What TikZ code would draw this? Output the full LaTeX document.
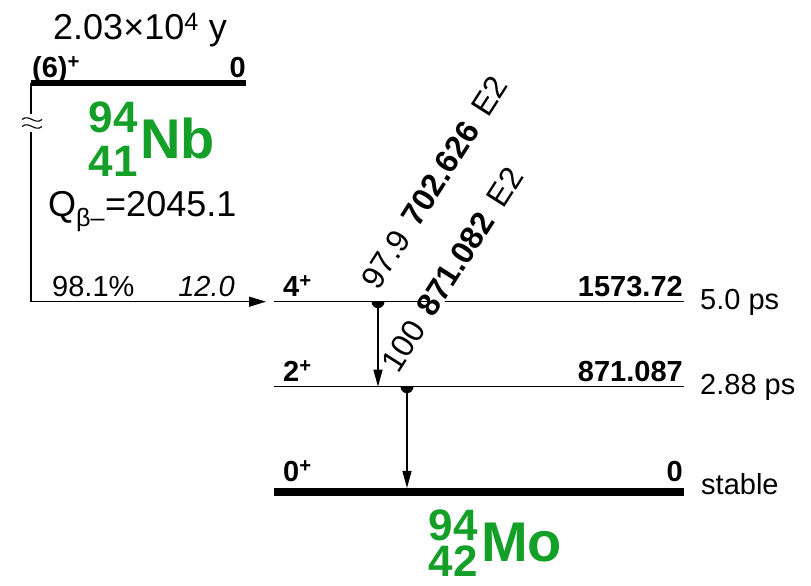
\documentclass[tikz,border=0pt]{standalone}
\usepackage{fontspec}
\setmainfont{Liberation Sans}
\usepackage{tikz}
\usetikzlibrary{arrows.meta, positioning, calc}
\definecolor{nucgreen}{RGB}{20,160,40}

\begin{document}
\begin{tikzpicture}[x=1pt, y=1pt, >={Triangle[length=17pt, width=9pt]},
  txt/.style={inner sep=0pt, font=\fontsize{29}{29}\selectfont},
  bigtxt/.style={inner sep=0pt, font=\fontsize{36}{36}\selectfont},
  nucnum/.style={inner sep=0pt, text=nucgreen, font=\fontsize{44}{44}\selectfont\bfseries},
  nucsym/.style={inner sep=0pt, text=nucgreen, font=\fontsize{56}{56}\selectfont\bfseries},
  glbl/.style={inner sep=0pt, fill=white, rotate=57.5, anchor=base west,
    text height=0.72em, text depth=0pt, font=\fontsize{32}{32}\selectfont},
  trans/.style={line width=1.3pt, ->}]
  \useasboundingbox (0,0) rectangle (811,586);

  % parent level
  \coordinate (nbL) at (31,503);
  \coordinate (nbR) at (246,503);
  \draw[line width=6.5pt] (nbL) -- (nbR);
  \node[txt, anchor=base west] (nbJ) at (32,508) {\textbf{(6)\textsuperscript{+}}};
  \node[txt, anchor=base east] (nbE) at (246,508) {\textbf{0}};
  \node[bigtxt, anchor=base west] (nbT) at (53,546) {2.03×10\textsuperscript{4} y};
  \node[nucnum, anchor=base east] (nbA) at (138,453) {94};
  \node[nucnum, anchor=base east] (nbZ) at (138,409) {41};
  \node[nucsym, anchor=base west] (nbS) at (140,427) {Nb};
  \node[bigtxt, anchor=base west] (nbQ) at (48,369) {Q\textsubscript{β–}=2045.1};

  % beta feeding
  \coordinate (feedC) at (31,284.3);
  \coordinate (feedE) at (266,284.3);
  \draw[line width=1.3pt, ->, >={Triangle[length=17pt, width=10pt]}] (nbL) -- (feedC) -- (feedE);
  % break mark
  \coordinate (brk) at (32,463);
  \fill[white] ($(brk)+(-4,-9)$) rectangle ($(brk)+(4,9)$);
  \foreach \dy in {-3.5,3.5}
    \draw[line width=1.1pt] ($(brk)+(-10,\dy)$) .. controls ($(brk)+(-3,\dy+6)$) and ($(brk)+(3,\dy-6)$) .. ($(brk)+(10,\dy)$);
  \node[txt, anchor=base west] (fI) at (52,289.3) {98.1\%};
  \node[txt, anchor=base east] (fL) at (235,289.3) {\textit{12.0}};

  % daughter levels
  \coordinate (l4L) at (274,284.3);
  \coordinate (l4R) at (684,284.3);
  \coordinate (l2L) at (274,199.3);
  \coordinate (l2R) at (684,199.3);
  \coordinate (l0L) at (274,94);
  \coordinate (l0R) at (684,94);
  \draw[line width=1.6pt] (l4L) -- (l4R);
  \draw[line width=1.6pt] (l2L) -- (l2R);
  \draw[line width=8pt] (l0L) -- (l0R);

  \node[txt, anchor=base west] (j4) at (283,289.3) {\textbf{4\textsuperscript{+}}};
  \node[txt, anchor=base east] (e4) at (683,289.3) {\textbf{1573.72}};
  \node[txt, anchor=base west] (h4) at (700,276) {5.0 ps};
  \node[txt, anchor=base west] (j2) at (283,204.3) {\textbf{2\textsuperscript{+}}};
  \node[txt, anchor=base east] (e2) at (683,204.3) {\textbf{871.087}};
  \node[txt, anchor=base west] (h2) at (700,191) {2.88 ps};
  \node[txt, anchor=base west] (j0) at (283,104.3) {\textbf{0\textsuperscript{+}}};
  \node[txt, anchor=base east] (e0) at (683,104.3) {\textbf{0}};
  \node[txt, anchor=base west] (h0) at (701,91) {stable};

  \node[nucnum, anchor=base east] (moA) at (478,45) {94};
  \node[nucnum, anchor=base east] (moZ) at (478,9) {42};
  \node[nucsym, anchor=base west] (moS) at (481,24) {Mo};

  % gamma rays
  \coordinate (t1a) at (378,284.3);
  \coordinate (t1b) at (378,199.3);
  \coordinate (t2a) at (407,199.3);
  \coordinate (t2b) at (407,98);
  \node[glbl] (g2) at ($(t2a)+(-9,12)$) {100\hspace{0.4em}\textbf{871.082}\hspace{0.45em}E2};
  \node[glbl] (g1) at ($(t1a)+(0,10)$) {97.9\hspace{0.4em}\textbf{702.626}\hspace{0.45em}E2};
  \draw[trans] (t1a) -- (t1b);
  \draw[trans] (t2a) -- (t2b);
  \fill (t1a) ++(-6.5,0) arc[start angle=180, end angle=360, radius=6.5] -- cycle;
  \fill (t2a) ++(-6.5,0) arc[start angle=180, end angle=360, radius=6.5] -- cycle;
\end{tikzpicture}
\end{document}
